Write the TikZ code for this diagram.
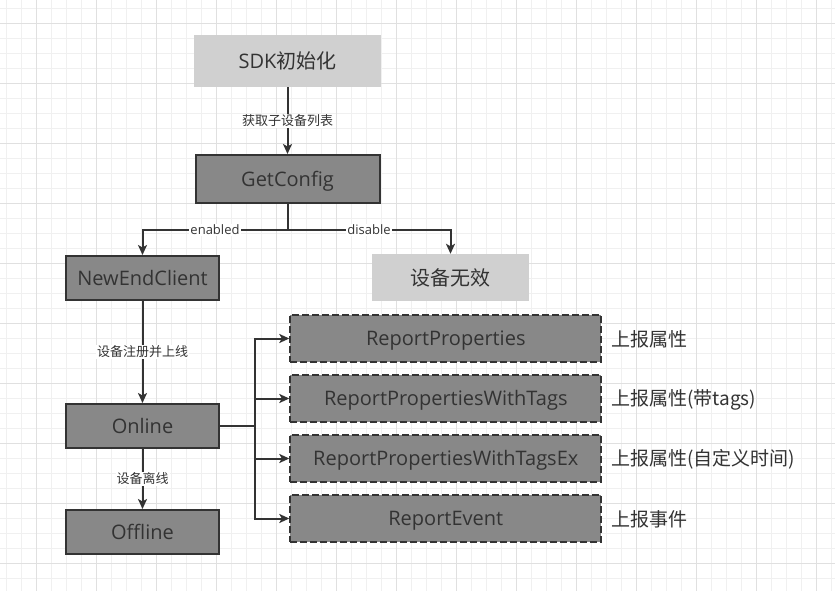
\documentclass[tikz,border=0pt]{standalone}
\usepackage{fontspec}
\setmainfont{Open Sans}
\newfontfamily\cjk{Noto Sans CJK SC}
\usetikzlibrary{arrows.meta, calc, positioning}
\definecolor{boxgray}{HTML}{888888}
\definecolor{lightbox}{HTML}{D0D0D0}
\definecolor{ink}{HTML}{333333}
\definecolor{gridminor}{HTML}{F0F0F0}
\definecolor{gridmajor}{HTML}{E0E0E0}
\tikzset{
  stepbox/.style={draw=ink, line width=2pt, fill=boxgray, text=ink, inner sep=0pt,
    minimum width=153pt, minimum height=44pt, text height=14.3pt, text depth=0pt,
    font=\fontsize{20}{24}\selectfont},
  softbox/.style={fill=lightbox, text=ink, inner sep=0pt, font=\fontsize{20}{24}\selectfont},
  reportbox/.style={stepbox, dash pattern=on 7pt off 3pt, minimum width=311pt, minimum height=47pt},
  flow/.style={draw=ink, line width=2pt, -{Stealth[length=10pt,width=9pt,inset=2.5pt]}},
  flowlabel/.style={fill=white, text=ink, inner sep=1pt, font=\fontsize{13}{15}\selectfont},
  note/.style={text=ink, anchor=west, inner sep=0pt, font=\cjk\fontsize{19}{23}\selectfont}
}
\begin{document}
\begin{tikzpicture}[x=1pt,y=-1pt]
\useasboundingbox (0,0) rectangle (835,591);
\fill[white] (0,0) rectangle (835,591);
% grid
\foreach \x in {6.3,21.3,...,835}{
  \draw[gridminor,line width=1pt] (\x,0) -- (\x,591);
};
\foreach \y in {8.3,23.3,...,591}{
  \draw[gridminor,line width=1pt] (0,\y) -- (835,\y);
};
\foreach \x in {36.3,96.3,...,835}{
  \draw[gridmajor,line width=1pt] (\x,0) -- (\x,591);
};
\foreach \y in {23.3,83.3,...,591}{
  \draw[gridmajor,line width=1pt] (0,\y) -- (835,\y);
};
% main column
\node[softbox, minimum width=187pt, minimum height=52pt] at (287.5,61) (sdk) {SDK{\cjk\fontsize{20}{24}\selectfont 初始化}};
\node[stepbox, minimum width=184pt, minimum height=48pt] at (287.5,179) (getconfig) {GetConfig};
\node[stepbox] at (142.5,278) (newend) {NewEndClient};
\node[softbox, minimum width=157pt, minimum height=47pt] at (450.5,277.5) (invalid) {\cjk\fontsize{20}{24}\selectfont 设备无效};
\node[stepbox] at (142.5,426) (online) {Online};
\node[stepbox] at (142.5,532) (offline) {Offline};
\draw[flow] (sdk) -- node[flowlabel]{\cjk 获取子设备列表} (getconfig);
\coordinate (split) at ($(getconfig.south)+(0,26)$);
\draw[flow] (getconfig.south) -- (split) -| node[pos=0.25,flowlabel]{enabled} (newend.north);
\draw[flow] (split) -| node[pos=0.25,flowlabel]{disable} (invalid.north);
\draw[flow] (newend) -- node[flowlabel]{\cjk 设备注册并上线} (online);
\draw[flow] (online) -- node[flowlabel]{\cjk 设备离线} (offline);
% report calls
\coordinate (fork) at (255,426);
\draw[draw=ink,line width=2pt] (online.east) -- (fork);
\foreach \name/\note [count=\i] in {ReportProperties/上报属性,
  ReportPropertiesWithTags/上报属性(带tags),
  ReportPropertiesWithTagsEx/上报属性(自定义时间),
  ReportEvent/上报事件}{
  \node[reportbox] at (445.8,{338.5+60*(\i-1)}) (rep-\i) {\name};
  \node[note] at (611,{339.5+60*(\i-1)}) (note-\i) {\note};
  \draw[flow] (fork) |- (rep-\i.west);
};
\end{tikzpicture}
\end{document}
